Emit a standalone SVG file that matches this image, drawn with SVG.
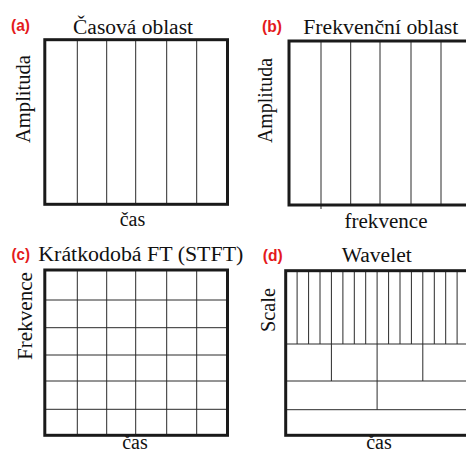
<svg xmlns="http://www.w3.org/2000/svg" width="466" height="453" viewBox="0 0 466 453">
  <style>
    .frame { fill: none; stroke: #1a1a1a; stroke-width: 3; }
    .grid { stroke: #2a2a2a; stroke-width: 1; fill: none; }
    .title { font-family: "Liberation Serif", "DejaVu Serif", serif; font-size: 20px; fill: #111; }
    .axis { font-family: "Liberation Serif", "DejaVu Serif", serif; font-size: 20px; fill: #111; }
    .tag { font-family: "Liberation Sans", "DejaVu Sans", sans-serif; font-size: 17px; font-weight: bold; fill: #e41a1c; }
  </style>
  <rect width="466" height="453" fill="#ffffff"/>

  <!-- (a) time domain -->
  <g id="panel-a">
    <text class="tag" x="11" y="30.5" textLength="19" lengthAdjust="spacingAndGlyphs">(a)</text>
    <text class="title" x="133" y="34" text-anchor="middle" textLength="120" lengthAdjust="spacingAndGlyphs">Časová oblast</text>
    <text class="axis" transform="translate(30,99) rotate(-90)" text-anchor="middle" textLength="88" lengthAdjust="spacingAndGlyphs">Amplituda</text>
    <text class="axis" x="132.5" y="226" text-anchor="middle">čas</text>
    <path class="grid" d="M77.3 39.7V204.3M106.7 39.7V204.3M135.7 39.7V204.3M166.7 39.7V204.3M196.7 39.7V204.3"/>
    <rect class="frame" x="44.8" y="39.7" width="182.7" height="164.6"/>
  </g>

  <!-- (b) frequency domain -->
  <g id="panel-b">
    <text class="tag" x="262" y="31.5" textLength="20" lengthAdjust="spacingAndGlyphs">(b)</text>
    <text class="title" x="380.8" y="33.5" text-anchor="middle" textLength="155" lengthAdjust="spacingAndGlyphs">Frekvenční oblast</text>
    <text class="axis" transform="translate(272,100.5) rotate(-90)" text-anchor="middle" textLength="85" lengthAdjust="spacingAndGlyphs">Amplituda</text>
    <text class="axis" x="386" y="228" text-anchor="middle" textLength="83" lengthAdjust="spacingAndGlyphs">frekvence</text>
    <path class="grid" d="M321 41V209M350.7 41V205M380 41V205M411 41V205M441 41V205"/>
    <rect class="frame" x="289" y="41" width="183" height="164"/>
  </g>

  <!-- (c) short-time Fourier transform -->
  <g id="panel-c">
    <text class="tag" x="11.5" y="259.5" textLength="18.5" lengthAdjust="spacingAndGlyphs">(c)</text>
    <text class="title" x="38.3" y="261" textLength="205" lengthAdjust="spacingAndGlyphs">Krátkodobá FT (STFT)</text>
    <text class="axis" transform="translate(32,316) rotate(-90)" text-anchor="middle" textLength="88" lengthAdjust="spacingAndGlyphs">Frekvence</text>
    <text class="axis" x="135" y="449" text-anchor="middle">čas</text>
    <path class="grid" d="M77.3 270V435.3M106.7 270V435.3M135.7 270V435.3M166.7 270V435.3M196.7 270V435.3"/>
    <path class="grid" d="M44.8 300H227.5M44.8 327.7H227.5M44.8 355H227.5M44.8 381H227.5M44.8 409.3H227.5"/>
    <rect class="frame" x="44.8" y="270" width="182.7" height="165.3"/>
  </g>

  <!-- (d) wavelet tiling -->
  <g id="panel-d">
    <text class="tag" x="262.7" y="260.5" textLength="20" lengthAdjust="spacingAndGlyphs">(d)</text>
    <text class="title" x="376.7" y="262" text-anchor="middle" textLength="70" lengthAdjust="spacingAndGlyphs">Wavelet</text>
    <text class="axis" transform="translate(274.5,310) rotate(-90)" text-anchor="middle" textLength="44" lengthAdjust="spacingAndGlyphs">Scale</text>
    <text class="axis" x="379" y="449" text-anchor="middle">čas</text>
    <!-- finest scale: 16 narrow cells -->
    <path class="grid" d="M297.1 270.7V344M308.6 270.7V344M320 270.7V344M331.4 270.7V344M342.9 270.7V344M354.3 270.7V344M365.7 270.7V344M377.1 270.7V344M388.6 270.7V344M400 270.7V344M411.4 270.7V344M422.8 270.7V344M434.3 270.7V344M445.7 270.7V344M457.1 270.7V344"/>
    <!-- coarser scales -->
    <path class="grid" d="M331.4 344V381M377.1 344V409.7M422.8 344V381"/>
    <path class="grid" d="M285.7 344H470M285.7 381H470M285.7 409.7H470"/>
    <rect class="frame" x="285.7" y="270.7" width="183" height="164.6"/>
  </g>
</svg>
